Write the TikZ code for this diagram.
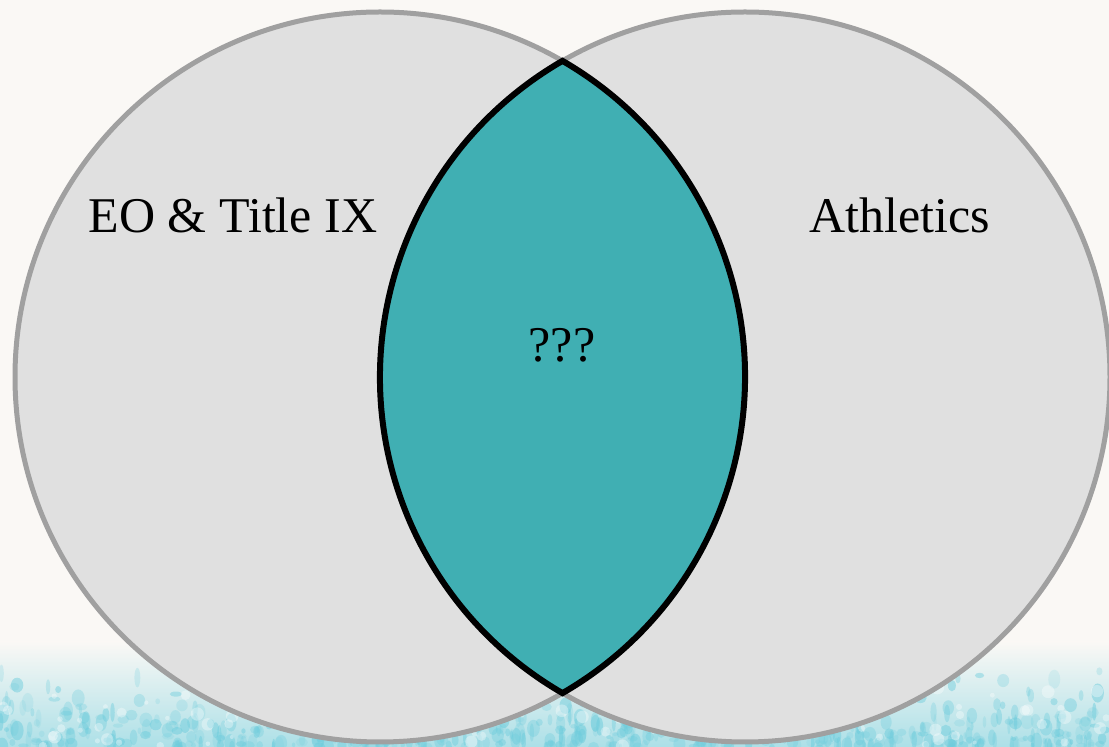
\documentclass[tikz,border=0pt]{standalone}
\usepackage{fontspec}
\setmainfont{Liberation Serif}
\definecolor{paper}{HTML}{FAF8F5}
\definecolor{bandcyan}{HTML}{6CCCDC}
\definecolor{circfill}{HTML}{E0E0E0}
\definecolor{circline}{HTML}{A0A0A0}
\definecolor{lensfill}{HTML}{40AFB3}
\tikzset{
  setcircle/.style={circle, minimum size=730pt, inner sep=0pt, fill=circfill, draw=circline, line width=5pt},
  lens/.style={fill=lensfill, draw=black, line width=6pt, line join=miter},
  lbl/.style={anchor=base, inner sep=0pt, font=\fontsize{50}{60}\selectfont},
}
\begin{document}
\begin{tikzpicture}[x=1pt,y=1pt]
\useasboundingbox (0,0) rectangle (1109,747);
% background paper
\fill[paper] (0,0) rectangle (1109,747);
\shade[bottom color=bandcyan!55!paper, top color=paper] (0,0) rectangle (1109,105);
\pgfmathsetseed{11}
\foreach \i in {1,...,600}{
  \pgfmathsetmacro{\bx}{rnd*1109}
  \pgfmathsetmacro{\by}{rnd*rnd*85}
  \pgfmathsetmacro{\bw}{1.5+rnd*5}
  \pgfmathsetmacro{\bh}{2+rnd*8}
  \pgfmathsetmacro{\op}{0.15+rnd*0.35}
  \fill[bandcyan, opacity=\op] (\bx,\by) ellipse [x radius=\bw, y radius=\bh];
}
\foreach \i in {1,...,90}{
  \pgfmathsetmacro{\bx}{rnd*1109}
  \pgfmathsetmacro{\by}{rnd*60}
  \pgfmathsetmacro{\bw}{2+rnd*5}
  \fill[white, opacity=0.35] (\bx,\by) circle [radius=\bw];
}
% circles
\node[setcircle] (L) at (380,370) {};
\node[setcircle] (R) at (745,370) {};
% intersection lens
\coordinate (top) at (562.5,686.1);
\draw[lens] (top) arc[start angle=120, end angle=240, radius=365pt]
  arc[start angle=-60, end angle=60, radius=365pt] -- cycle;
% labels
\node[lbl] (eo) at (233,514) {EO \& Title IX};
\node[lbl] (ath) at (900,514) {Athletics};
\node[lbl] (q) at (562,385) {???};
\end{tikzpicture}
\end{document}
